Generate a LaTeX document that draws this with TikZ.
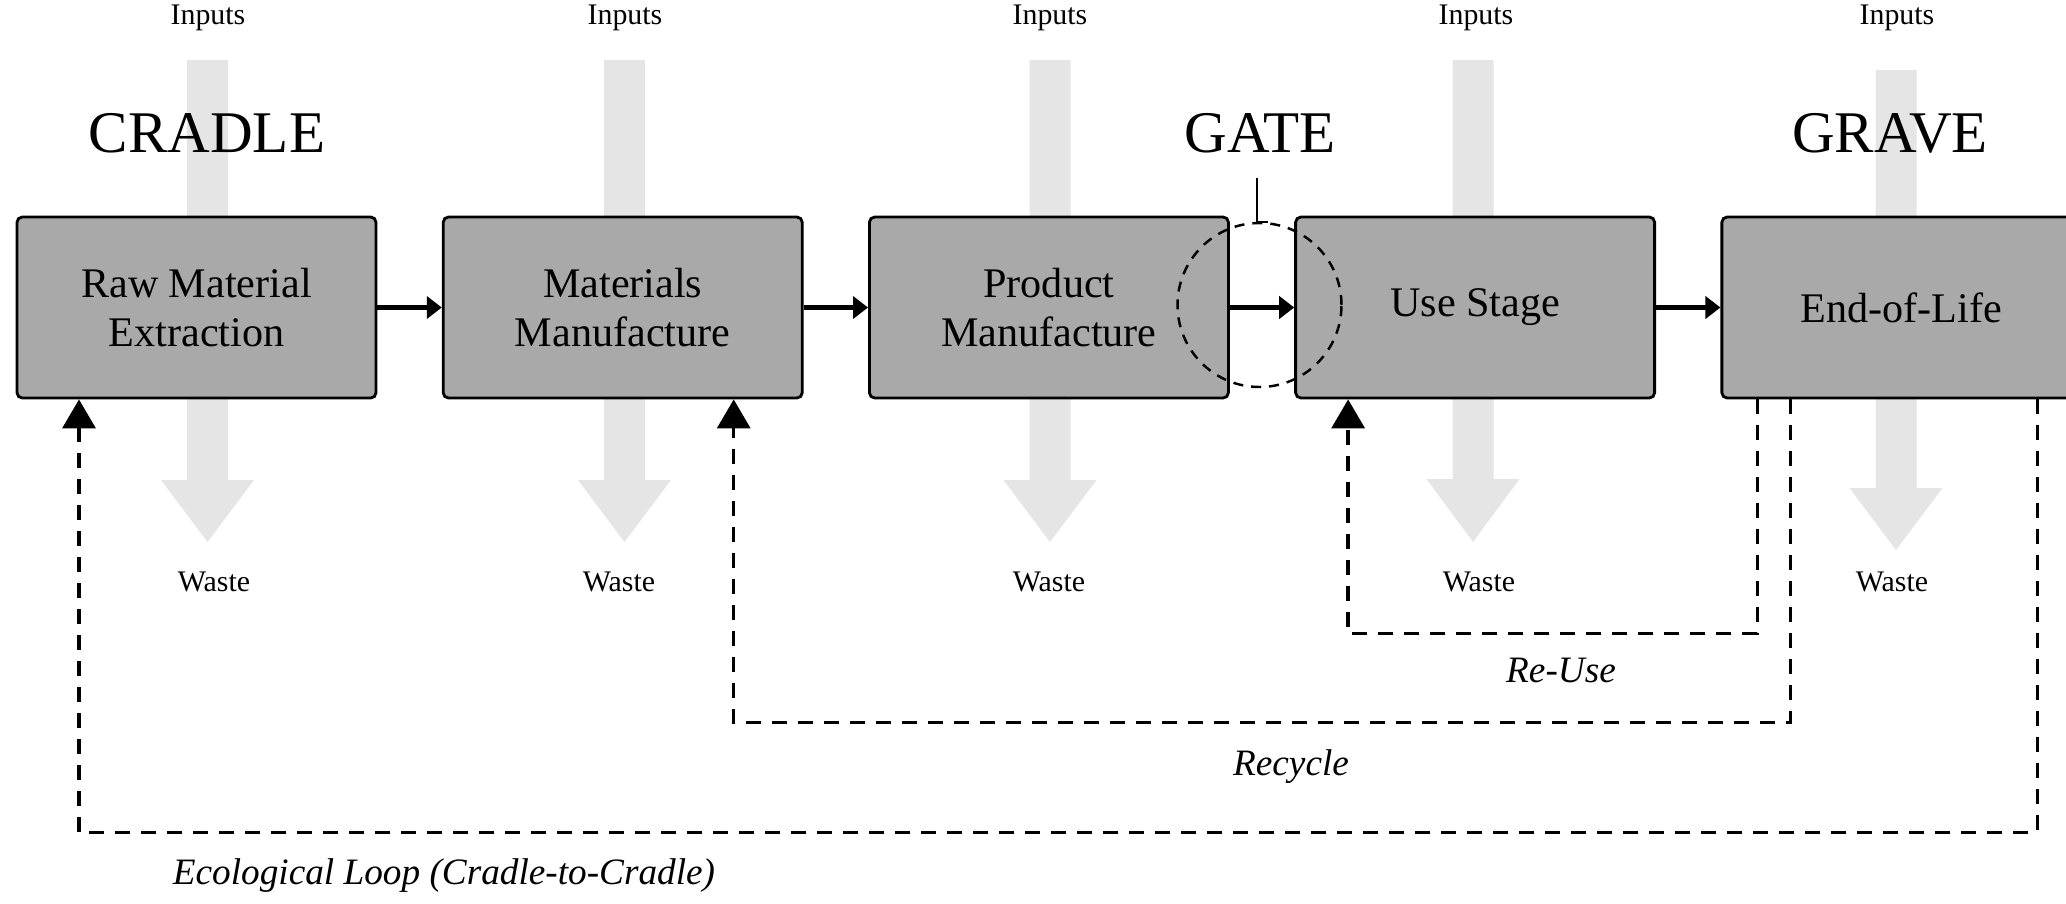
\documentclass[tikz,border=0pt]{standalone}
\usepackage{fontspec}
\setmainfont{Liberation Serif}
\usetikzlibrary{positioning,arrows.meta}
\definecolor{boxgray}{RGB}{169,169,169}
\definecolor{bargray}{RGB}{229,229,229}
\tikzset{
  stage/.style={draw, line width=0.8pt, fill=boxgray, rounded corners=1.5pt,
    minimum width=3.59cm, minimum height=1.81cm, align=center,
    font=\fontsize{12}{14}\selectfont},
  flow/.style={line width=1.2pt, -{Triangle[length=0.15cm,width=0.22cm]}},
  loopline/.style={line width=1pt, dash pattern=on 0.15cm off 0.11cm,
    -{Triangle[length=0.29cm,width=0.33cm]}},
  small/.style={font=\fontsize{8.5}{10}\selectfont},
  title/.style={font=\fontsize{16.8}{20}\selectfont},
  looplabel/.style={font=\fontsize{10.6}{12}\selectfont\itshape},
}
\begin{document}
\begin{tikzpicture}
  \useasboundingbox (0,0) rectangle (20.66,-9.03);
  % inputs / waste bars
  \foreach \x/\t/\h/\b in {2.075/0.60/4.80/5.42, 6.245/0.60/4.80/5.42,
      10.50/0.60/4.80/5.42, 14.73/0.60/4.79/5.42, 18.96/0.70/4.88/5.50}
    \fill[bargray] (\x-0.205,-\t) -- (\x+0.205,-\t) -- (\x+0.205,-\h)
      -- (\x+0.465,-\h) -- (\x,-\b) -- (\x-0.465,-\h) -- (\x-0.205,-\h) -- cycle;
  \foreach \x [count=\i] in {2.08, 6.25, 10.50, 14.76, 18.97}
    \node[small] (in\i) at (\x,-0.18) {Inputs};
  \foreach \x [count=\i] in {2.14, 6.19, 10.49, 14.79, 18.92}
    \node[small] (out\i) at (\x,-5.82) {Waste};
  \node[title] (cradle) at (2.07,-1.33) {CRADLE};
  \node[title] (gate)   at (12.60,-1.33) {GATE};
  \node[title] (grave)  at (18.90,-1.33) {GRAVE};
  % stages
  \node[stage] (raw) at (1.965,-3.075) {Raw Material\\Extraction};
  \node[stage, right=0.644cm of raw] (mat) {Materials\\Manufacture};
  \node[stage, right=0.644cm of mat] (prod) {Product\\Manufacture};
  \node[stage, right=0.644cm of prod] (use) {Use Stage};
  \node[stage, right=0.644cm of use] (eol) {End-of-Life};
  \draw[flow] (raw) -- (mat);
  \draw[flow] (mat) -- (prod);
  \draw[flow] (prod) -- (use);
  \draw[flow] (use) -- (eol);
  % gate marker
  \node[draw, circle, line width=0.7pt, dash pattern=on 0.1cm off 0.08cm,
    minimum size=1.64cm, inner sep=0pt] (gc) at (12.595,-3.05) {};
  \coordinate (gtop) at (12.57,-1.78);
  \draw[line width=0.7pt] (gtop) |- ([xshift=0.08cm]gc.north);
  % loops back
  \draw[loopline] ([xshift=-1.44cm]eol.south) -- ++(0,-2.34) -| ([xshift=-1.27cm]use.south);
  \draw[loopline] ([xshift=-1.11cm]eol.south) -- ++(0,-3.23) -| ([xshift=1.11cm]mat.south);
  \draw[loopline] ([xshift=1.36cm]eol.south) -- ++(0,-4.33) -| ([xshift=-1.175cm]raw.south);
  \node[looplabel] (reuse) at (15.61,-6.70) {Re-Use};
  \node[looplabel] (recyc) at (12.91,-7.67) {Recycle};
  \node[looplabel] (eco) at (4.44,-8.76) {Ecological Loop (Cradle-to-Cradle)};
\end{tikzpicture}
\end{document}
